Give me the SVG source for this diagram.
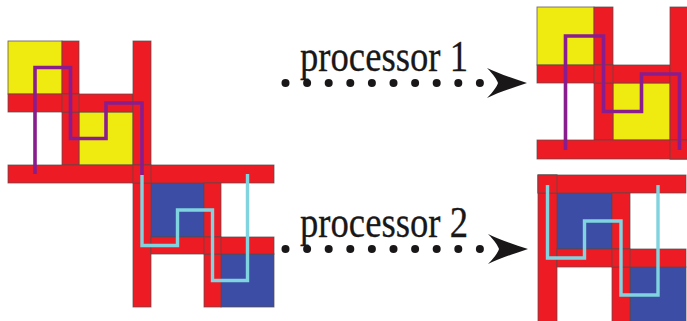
<svg xmlns="http://www.w3.org/2000/svg" width="687" height="321" viewBox="0 0 687 321">
  <style>
    .cell { stroke: #5a4a4a; stroke-width: 0.9; stroke-opacity: 0.8; }
    .red { fill: #ed1c24; }
    .yel { fill: #efea10; }
    .blu { fill: #3b4da4; }
    .p1 { fill: none; stroke: #8a1d8e; stroke-width: 3.6; stroke-linejoin: miter; }
    .p2 { fill: none; stroke: #80d4df; stroke-width: 3.4; stroke-linejoin: miter; }
    .lbl { font-family: "Liberation Serif", "Times New Roman", serif; font-size: 44px; fill: #1a1718; stroke: #1a1718; stroke-width: 0.3; }
    .dot { fill: #1a1718; }
  </style>
  <defs>
    <circle id="d" r="4" class="dot"/>
  </defs>

  <!-- full mesh: both sub-domains with their traversal paths -->
  <g id="mesh-full">
    <rect class="cell yel" x="8" y="41" width="54" height="53"/>
    <rect class="cell yel" x="79" y="112" width="54" height="53"/>
    <rect class="cell blu" x="151" y="183" width="53" height="54"/>
    <rect class="cell blu" x="221" y="254" width="53" height="53"/>
    <rect class="cell red" x="62" y="41" width="17" height="124"/>
    <rect class="cell red" x="8" y="94" width="125" height="18"/>
    <rect class="cell red" x="133" y="41" width="18" height="266"/>
    <rect class="cell red" x="8" y="165" width="266" height="18"/>
    <rect class="cell red" x="204" y="183" width="17" height="124"/>
    <rect class="cell red" x="151" y="237" width="123" height="17"/>
    <rect class="cell red" x="62" y="94" width="17" height="18"/>
    <rect class="cell red" x="133" y="165" width="18" height="18"/>
    <rect class="cell red" x="204" y="237" width="17" height="17"/>
    <path class="p1" d="M35,174 V67.5 H70.5 V138.5 H106 V103 H142 V175"/>
    <path class="p2" d="M142,175 V245.5 H177.5 V210 H212.5 V280.5 H247.5 V174"/>
  </g>

  <!-- sub-domain handled by processor 1 -->
  <g id="part-1">
    <rect class="cell yel" x="537" y="7" width="57" height="58"/>
    <rect class="cell yel" x="613" y="83" width="57" height="57"/>
    <rect class="cell red" x="594" y="7" width="19" height="133"/>
    <rect class="cell red" x="537" y="65" width="133" height="18"/>
    <rect class="cell red" x="670" y="7" width="19" height="152"/>
    <rect class="cell red" x="537" y="140" width="160" height="19"/>
    <rect class="cell red" x="594" y="65" width="19" height="18"/>
    <rect class="cell red" x="670" y="140" width="19" height="19"/>
    <path class="p1" d="M565.5,150 V36 H603.5 V111.5 H641.5 V74 H679.5 V150"/>
  </g>

  <!-- sub-domain handled by processor 2 -->
  <g id="part-2">
    <rect class="cell blu" x="557" y="193" width="55" height="56"/>
    <rect class="cell blu" x="630" y="267" width="56" height="60"/>
    <rect class="cell red" x="538" y="175" width="19" height="150"/>
    <rect class="cell red" x="538" y="175" width="148" height="18"/>
    <rect class="cell red" x="612" y="193" width="18" height="132"/>
    <rect class="cell red" x="557" y="249" width="129" height="18"/>
    <rect class="cell red" x="538" y="175" width="19" height="18"/>
    <rect class="cell red" x="612" y="249" width="18" height="18"/>
    <path class="p2" d="M547.5,185 V258 H584.5 V221 H621 V295 H658 V185"/>
  </g>

  <!-- dotted assignment arrows -->
  <g id="connectors">
    <g id="to-processor-1">
      <use href="#d" x="285.5" y="83"/>
      <use href="#d" x="307.1" y="83"/>
      <use href="#d" x="328.7" y="83"/>
      <use href="#d" x="350.3" y="83"/>
      <use href="#d" x="371.9" y="83"/>
      <use href="#d" x="393.5" y="83"/>
      <use href="#d" x="415.1" y="83"/>
      <use href="#d" x="436.7" y="83"/>
      <use href="#d" x="458.3" y="83"/>
      <use href="#d" x="479.9" y="83"/>
      <path class="dot" d="M527,83 C512,78 497,73 487,68 C494,75 497,80 498,83 C497,86 494,91 487,98 C497,93 512,88 527,83 Z"/>
      <text class="lbl" x="300" y="71" textLength="168" lengthAdjust="spacingAndGlyphs">processor 1</text>
    </g>
    <g id="to-processor-2">
      <use href="#d" x="285.5" y="249"/>
      <use href="#d" x="307.1" y="249"/>
      <use href="#d" x="328.7" y="249"/>
      <use href="#d" x="350.3" y="249"/>
      <use href="#d" x="371.9" y="249"/>
      <use href="#d" x="393.5" y="249"/>
      <use href="#d" x="415.1" y="249"/>
      <use href="#d" x="436.7" y="249"/>
      <use href="#d" x="458.3" y="249"/>
      <use href="#d" x="479.9" y="249"/>
      <path class="dot" d="M528,249 C513,244 498,239 488,234 C495,241 498,246 499,249 C498,252 495,257 488,264 C498,259 513,254 528,249 Z"/>
      <text class="lbl" x="300" y="237" textLength="168" lengthAdjust="spacingAndGlyphs">processor 2</text>
    </g>
  </g>
</svg>
